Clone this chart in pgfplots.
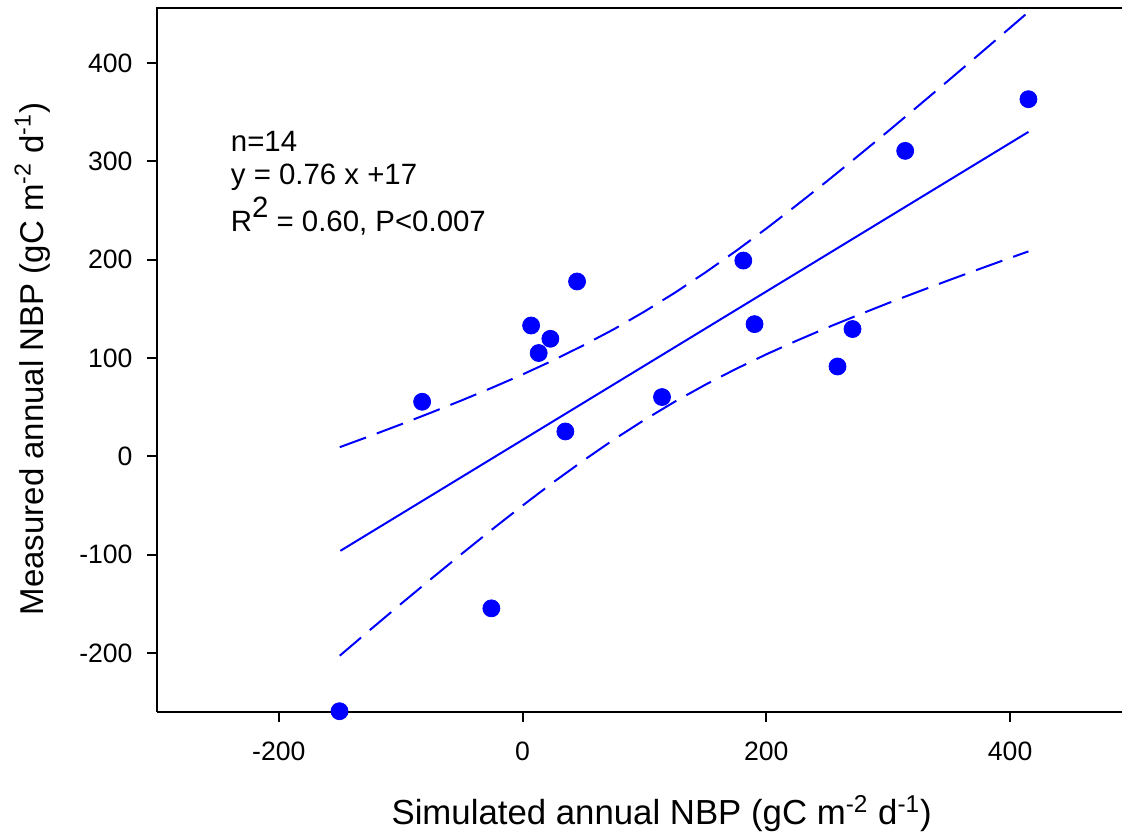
\documentclass[border=0pt]{standalone}
\usepackage{pgfplots}
\pgfplotsset{compat=1.18}
\usepackage{fontspec}
\setmainfont{Liberation Sans}
\definecolor{pblue}{RGB}{0,0,255}
\begin{document}
\begin{tikzpicture}[x=1pt,y=1pt]
\path[use as bounding box] (-78.5,-61.5) rectangle (482.8,356.1);
\begin{axis}[
 at={(0,0)}, anchor=south west,
 scale only axis, width=482.8pt, height=352.1pt,
 xmin=-300, xmax=491.8, ymin=-260, ymax=456.2,
 axis x line=bottom, axis y line=left,
 axis line style={-, line width=1.2pt, black},
 tick align=outside, major tick length=5pt,
 every tick/.style={black, line width=1pt},
 xtick={-200,0,200,400}, xticklabels={-200,0,200,400},
 ytick={-200,-100,0,100,200,300,400},
 yticklabels={-200,-100,0,100,200,300,400},
 ticklabel style={font=\fontsize{13.3}{16}\selectfont},
 xticklabel style={yshift=-6.5pt},
 yticklabel style={xshift=-3.7pt},
 clip=false,
]
\addplot[pblue, line width=1pt, dash pattern=on 14pt off 5.75pt] coordinates {
(-150,9.3) (-125,20.7) (-100,32.4) (-75,44.5) (-50,56.9) (-25,69.8) (0,83.3) (25,97.6) (50,113.0) (75,129.4) (100,147.3) (125,166.5) (150,187.1) (175,208.9) (200,231.8) (225,255.7) (250,280.2) (275,305.4) (300,330.9) (325,356.9) (350,383.1) (375,409.5) (400,436.1) (415,452.1)};
\addplot[pblue, line width=1pt, dash pattern=on 14pt off 5.75pt] coordinates {
(-150,-202.9) (-125,-176.5) (-100,-150.4) (-75,-124.7) (-50,-99.3) (-25,-74.4) (0,-50.1) (25,-26.6) (50,-4.2) (75,17.2) (100,37.1) (125,55.7) (150,72.9) (175,88.9) (200,103.8) (225,117.7) (250,131.0) (275,143.6) (300,155.9) (325,167.7) (350,179.3) (375,190.7) (400,201.9) (415,208.5)};
\addplot[pblue, line width=1pt] coordinates {(-149.5,-96.2) (415,330.1)};
\addplot[pblue, only marks, mark=*, mark size=4.25pt, mark options={fill=pblue, draw=none}] coordinates {
(-150.2,-259.4) (-82.4,55.5) (-25.6,-154.7) (7.0,133.1) (13.2,105.1) (22.8,119.6) (35.1,25.3) (44.7,177.9) (114.4,60.3) (181.1,199.2) (190.3,134.5) (258.4,91.4) (270.7,129.5) (313.9,310.8) (415.0,363.4)};
\node[anchor=base west, inner sep=0pt, font=\fontsize{14.7}{17}\selectfont] at (axis cs:-239.6,309.8) {n=14};
\node[anchor=base west, inner sep=0pt, font=\fontsize{14.7}{17}\selectfont] at (axis cs:-239.6,276.2) {y = 0.76 x +17};
\node[anchor=base west, inner sep=0pt, font=\fontsize{14.7}{17}\selectfont] at (axis cs:-239.6,228.4) {R\raisebox{7pt}{2} = 0.60, P<0.007};
\end{axis}
\draw[black, line width=1.2pt] (-0.6,352.1) -- (482.8,352.1);
\node[anchor=base, inner sep=0pt, font=\fontsize{17.4}{20}\selectfont] at (252.5,-56.5) {Simulated annual NBP (gC m\textsuperscript{-2} d\textsuperscript{-1})};
\node[anchor=base, rotate=90, inner sep=0pt, font=\fontsize{16.5}{19}\selectfont] at (-56.85,176.5) {Measured annual NBP (gC m\textsuperscript{-2} d\textsuperscript{-1})};
\end{tikzpicture}
\end{document}
